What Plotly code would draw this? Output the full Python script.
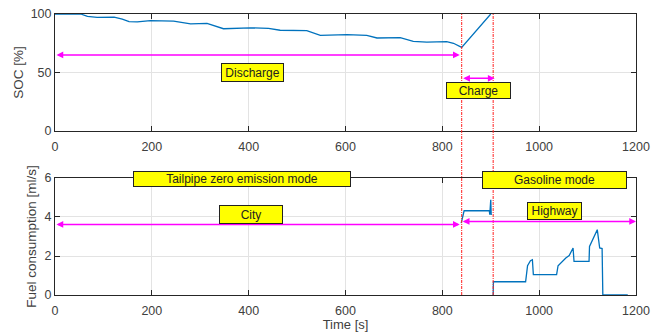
import plotly.graph_objects as go

# ---- data ----
soc_t = [0, 53, 67, 87, 122, 139, 153, 170, 197, 245, 280, 314, 348, 376, 403, 441, 465,
         520, 548, 603, 644, 665, 713, 740, 768, 809, 823, 840, 900]
soc_v = [100, 100, 98, 97.2, 97.4, 95.7, 93.4, 93.2, 94.3, 93.9, 91.5, 92, 87.4, 87.7, 88.2,
         87.7, 86.1, 85.8, 81.8, 82.3, 81.8, 79.5, 79.8, 76.6, 76, 76.4, 75, 71.5, 100]

fuel_t = [839, 845, 897, 898, 900, 901, None, 905, 905.5, 972, 976, 982, 986, 988, 1036,
          1039, 1055, 1062, 1070, 1072, 1103, 1104, 1120, 1125, 1130, 1131.5, 1183]
fuel_v = [3.69, 4.32, 4.32, 4.12, 4.88, 4.1, None, 0, 0.68, 0.68, 1.5, 1.76, 1.81, 1.04, 1.04,
          1.5, 1.9, 2.02, 2.41, 1.72, 1.72, 2.49, 3.35, 2.41, 2.38, 0, 0]

mode_lines = [840, 905]
x_ticks = [0, 200, 400, 600, 800, 1000, 1200]
soc_ticks = [0, 50, 100]
fuel_ticks = [0, 2, 4, 6]

# arrows: (axis, x_start, x_end, y)
arrows = [("1", 0, 836, 65), ("1", 840, 908, 45), ("2", 0, 836, 3.62), ("2", 839, 1200, 3.77)]
# text boxes: (axis, text, x, y, width, height)
boxes = [
    ("1", "Discharge", 408, 50, 61, 17),
    ("1", "Charge", 875, 34.6, 63, 15),
    ("2", "Tailpipe zero emission mode", 386, 5.94, 216, 14),
    ("2", "Gasoline mode", 1031, 5.89, 143, 16),
    ("2", "City", 404, 4.14, 62, 17),
    ("2", "Highway", 1032, 4.33, 53, 16),
]

FONT = "Liberation Sans, Arial, sans-serif"
BLUE = "#0072BD"
MAG = "#FF00FF"

fig = go.Figure()
fig.add_trace(go.Scatter(x=soc_t, y=soc_v, mode="lines", line=dict(color=BLUE, width=1.3),
                         xaxis="x", yaxis="y", showlegend=False, cliponaxis=False))
fig.add_trace(go.Scatter(x=fuel_t, y=fuel_v, mode="lines", line=dict(color=BLUE, width=1.3),
                         xaxis="x2", yaxis="y2", showlegend=False, connectgaps=False))

axis_common = dict(showline=True, mirror="ticks", linecolor="#262626", linewidth=1,
                   ticks="inside", ticklen=5, tickcolor="#262626", automargin=False,
                   showgrid=True, gridcolor="#e3e3e3", gridwidth=1, zeroline=False,
                   tickfont=dict(family=FONT, size=12.5, color="#404040"))
ytitle_font = dict(family=FONT, size=13.5, color="#404040")
xtitle_font = dict(family=FONT, size=13, color="#404040")

fig.update_layout(
    width=661, height=332,
    margin=dict(l=55, r=25, t=14, b=37, autoexpand=False),
    paper_bgcolor="white", plot_bgcolor="white",
    font=dict(family=FONT, size=12, color="#404040"),
    xaxis=dict(domain=[0, 1], range=[0, 1200], tickvals=x_ticks, anchor="y",
               ticklabelstandoff=4, **axis_common),
    yaxis=dict(domain=[0.5836, 1], range=[0, 100], tickvals=soc_ticks, anchor="x",
               title=dict(text="SOC [%]", font=ytitle_font, standoff=3), **axis_common),
    xaxis2=dict(domain=[0, 1], range=[0, 1200], tickvals=x_ticks, anchor="y2",
                ticklabelstandoff=4,
                title=dict(text="Time [s]", font=xtitle_font, standoff=2), **axis_common),
    yaxis2=dict(domain=[0, 0.4164], range=[0, 6], tickvals=fuel_ticks, anchor="x2",
                title=dict(text="Fuel consumption [ml/s]", font=ytitle_font, standoff=4), **axis_common),
)

for xv in mode_lines:
    fig.add_shape(type="line", xref="x", yref="paper", x0=xv, x1=xv, y0=0, y1=1,
                  line=dict(color="#ff2020", width=1, dash="3px,1px,1px,1px"), layer="above")

for ax, xs, xe, yv in arrows:
    xr = "x" if ax == "1" else "x2"
    yr = "y" if ax == "1" else "y2"
    fig.add_annotation(x=xe, y=yv, ax=xs, ay=yv, xref=xr, yref=yr, axref=xr, ayref=yr,
                       text="", showarrow=True, arrowhead=2, startarrowhead=2,
                       arrowside="end+start", arrowsize=0.9, startarrowsize=0.9,
                       arrowwidth=1.5, arrowcolor=MAG, standoff=0, startstandoff=0)

for ax, txt, xv, yv, w, h in boxes:
    xr = "x" if ax == "1" else "x2"
    yr = "y" if ax == "1" else "y2"
    fig.add_annotation(x=xv, y=yv, xref=xr, yref=yr, text=txt, showarrow=False,
                       bgcolor="#FFFF00", bordercolor="#222222", borderwidth=1, borderpad=0,
                       width=w, height=h, align="center", valign="middle",
                       font=dict(family=FONT, size=12, color="#222222"))

fig.write_html("out.html", config={"displayModeBar": False},
               post_script="document.body.style.margin='0';")
